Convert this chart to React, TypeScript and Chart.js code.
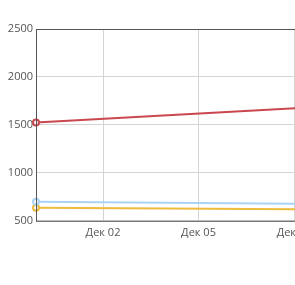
import React, { useEffect, useRef } from "react";
import { Chart, registerables } from "chart.js";

Chart.register(...registerables);

// x values are days of December (0 = Nov 30)
const xValues = [-0.105, 8.03];
const redSeries = [1525, 1673];
const blueSeries = [699, 678];
const yellowSeries = [636, 620];
const xTicks = [2, 5, 8];
const yTicks = [500, 1000, 1500, 2000, 2500];

const boxPlugin = {
  id: "box",
  afterDraw(chart: any) {
    const { ctx, chartArea } = chart;
    ctx.save();
    ctx.strokeStyle = "#555555";
    ctx.lineWidth = 1;
    ctx.strokeRect(chartArea.left + 0.5, chartArea.top + 0.5, chartArea.right - chartArea.left, chartArea.bottom - chartArea.top);
    ctx.restore();
  },
};

export default function App() {
  const ref = useRef<HTMLCanvasElement>(null);
  useEffect(() => {
    document.documentElement.style.overflow = "hidden";
    document.body.style.margin = "0";
    document.body.style.overflow = "hidden";
    const mk = (vals: number[]) => xValues.map((x, i) => ({ x, y: vals[i] }));
    const ds = (vals: number[], color: string) => ({
      data: mk(vals),
      borderColor: color,
      backgroundColor: "#ffffff",
      borderWidth: 2,
      pointRadius: (c: any) => (c.dataIndex === 0 ? 3 : 0),
      pointBorderWidth: 2,
      pointBackgroundColor: "#ffffff",
      pointBorderColor: color,
      tension: 0,
      clip: false,
    });
    const chart = new Chart(ref.current!, {
      type: "line",
      data: {
        datasets: [
          ds(redSeries, "#c9474e"),
          ds(blueSeries, "#aad4f5"),
          ds(yellowSeries, "#eebb3c"),
        ],
      },
      options: {
        animation: false,
        responsive: false,
        maintainAspectRatio: false,
        layout: { padding: { top: 21, left: 0, right: 0, bottom: 0 } },
        plugins: { legend: { display: false }, tooltip: { enabled: false } },
        scales: {
          x: {
            type: "linear",
            min: xValues[0],
            max: xValues[xValues.length - 1],
            afterBuildTicks: (axis: any) => {
              axis.ticks = xTicks.map((v) => ({ value: v }));
            },
            afterFit: (axis: any) => {
              axis.paddingRight = 0;
              axis.paddingLeft = 0;
            },
            ticks: {
              color: "#555555",
              font: { family: "Open Sans", size: 11 },
              padding: 5,
              maxRotation: 0,
              callback: (v: any) => "Дек " + String(v).padStart(2, "0"),
            },
            grid: { color: "#d4d4d4", drawTicks: false },
            border: { display: false },
          },
          y: {
            min: 500,
            max: 2500,
            afterBuildTicks: (axis: any) => {
              axis.ticks = yTicks.map((v) => ({ value: v }));
            },
            afterFit: (axis: any) => {
              axis.width = 28;
            },
            ticks: {
              color: "#555555",
              font: { family: "Open Sans", size: 11 },
              padding: 3,
              callback: (v: any) => String(v),
            },
            grid: { color: "#d4d4d4", drawTicks: false },
            border: { display: false },
          },
        },
      },
      plugins: [boxPlugin],
    } as any);
    return () => chart.destroy();
  }, []);
  return (
    <div style={{ paddingLeft: 8, paddingTop: 8, width: 293, height: 236, overflow: "hidden" }}>
      <canvas ref={ref} width={293} height={236} style={{ display: "block" }} />
    </div>
  );
}
